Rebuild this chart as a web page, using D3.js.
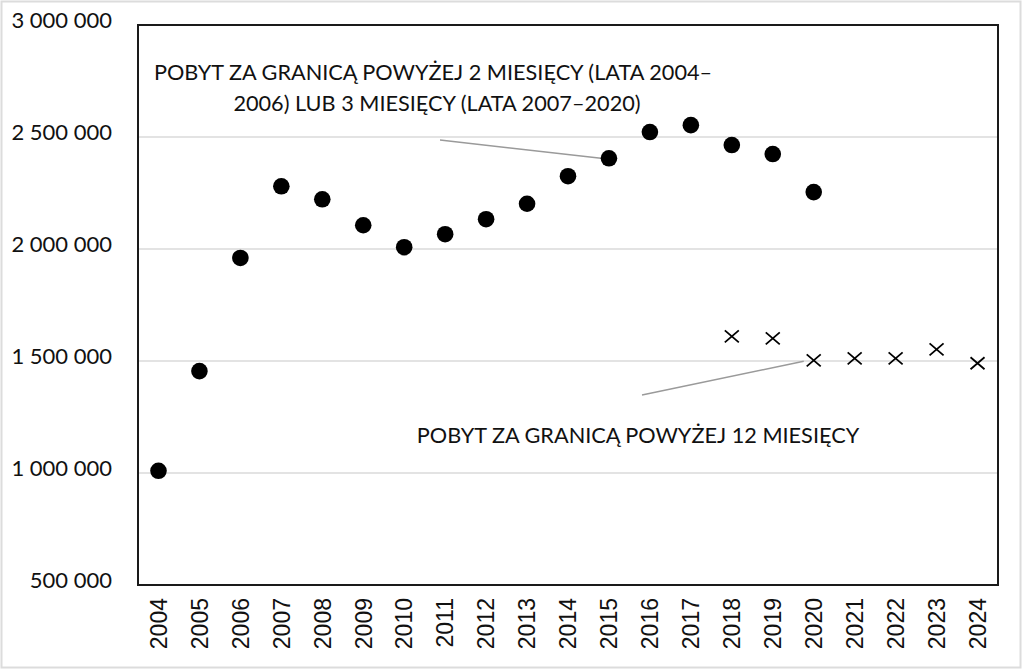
<!DOCTYPE html>
<html>
<head>
<meta charset="utf-8">
<script src="https://cdn.jsdelivr.net/npm/d3@7"></script>
<style>
  body { margin: 0; background: #fff; }
</style>
</head>
<body>
<script>
var years = ['2004','2005','2006','2007','2008','2009','2010','2011','2012','2013','2014',
  '2015','2016','2017','2018','2019','2020','2021','2022','2023','2024'];

// pobyt powyzej 2 (2004-2006) lub 3 miesiecy (2007-2020)
var shortYears = ['2004','2005','2006','2007','2008','2009','2010','2011','2012','2013','2014',
  '2015','2016','2017','2018','2019','2020'];
var shortValues = [1010000, 1455000, 1960000, 2280000, 2222000, 2106000, 2008000, 2066000,
  2133000, 2202000, 2325000, 2405000, 2522000, 2553000, 2464000, 2424000, 2254000];

// pobyt powyzej 12 miesiecy
var longYears = ['2018','2019','2020','2021','2022','2023','2024'];
var longValues = [1610000, 1601000, 1503000, 1512000, 1512000, 1552000, 1490000];

var yTicks = [500000, 1000000, 1500000, 2000000, 2500000, 3000000];

var w = 1024;
var h = 671;
var plotL = 138, plotR = 998, plotT = 25, plotB = 585;

var svg = d3.select('body')
  .append('svg')
  .attr('width', w)
  .attr('height', h);

// outer light border
svg.append('rect')
  .attr('x', 1.5).attr('y', 1.5)
  .attr('width', w - 5).attr('height', h - 5)
  .attr('fill', 'none')
  .attr('stroke', '#dcdcdc')
  .attr('stroke-width', 2);

/* ===== scales ===== */

var xScale = d3.scaleBand()
  .domain(years)
  .range([plotL, plotR]);

var yScale = d3.scaleLinear()
  .domain([500000, 3000000])
  .range([plotB, plotT]);

var fmt = function(d) {
  return d3.format(',')(d).replace(/,/g, ' ');
};

/* ===== grid ===== */

svg.append('g')
  .selectAll('line')
  .data(yTicks.slice(1, -1))
  .enter()
  .append('line')
  .attr('x1', plotL).attr('x2', plotR)
  .attr('y1', function(d) { return yScale(d); })
  .attr('y2', function(d) { return yScale(d); })
  .attr('stroke', '#dadada')
  .attr('stroke-width', 1.5);

/* ===== axes ===== */

var yAxis = d3.axisLeft(yScale)
  .tickValues(yTicks)
  .tickFormat(fmt)
  .tickSize(0)
  .tickPadding(26);

svg.append('g')
  .attr('transform', 'translate(' + plotL + ',0)')
  .call(yAxis)
  .call(function(g) { g.select('.domain').remove(); })
  .selectAll('text')
  .attr('font-family', 'Lato, sans-serif')
  .attr('font-size', 22)
  .attr('fill', '#111')
  .attr('dy', '0.1em');

var xAxis = d3.axisBottom(xScale)
  .tickSize(0)
  .tickPadding(0);

svg.append('g')
  .attr('transform', 'translate(0,' + plotB + ')')
  .call(xAxis)
  .call(function(g) { g.select('.domain').remove(); })
  .selectAll('text')
  .attr('font-family', '"Liberation Sans", Arial, sans-serif')
  .attr('font-size', 23)
  .attr('fill', '#111')
  .attr('text-anchor', 'end')
  .attr('transform', 'rotate(-90)')
  .attr('x', -13)
  .attr('y', 0)
  .attr('dy', '0.36em');

// plot frame
svg.append('rect')
  .attr('x', plotL).attr('y', plotT)
  .attr('width', plotR - plotL).attr('height', plotB - plotT)
  .attr('fill', 'none')
  .attr('stroke', '#1a1a1a')
  .attr('stroke-width', 2);

/* ===== leader lines ===== */

svg.append('line')
  .attr('x1', 440).attr('y1', 140)
  .attr('x2', xScale('2015') + xScale.bandwidth() / 2 - 8)
  .attr('y2', yScale(2405000))
  .attr('stroke', '#9a9a9a')
  .attr('stroke-width', 1.5);

svg.append('line')
  .attr('x1', 642).attr('y1', 395)
  .attr('x2', xScale('2020') + xScale.bandwidth() / 2 - 10)
  .attr('y2', yScale(1503000) + 1)
  .attr('stroke', '#9a9a9a')
  .attr('stroke-width', 1.5);

/* ===== dots ===== */

svg.append('g')
  .selectAll('circle')
  .data(shortValues)
  .enter()
  .append('circle')
  .attr('cx', function(d, i) { return xScale(shortYears[i]) + xScale.bandwidth() / 2; })
  .attr('cy', function(d) { return yScale(d); })
  .attr('r', 8.3)
  .attr('fill', '#000');

/* ===== crosses ===== */

svg.append('g')
  .selectAll('path')
  .data(longValues)
  .enter()
  .append('path')
  .attr('d', 'M-7,-6L7,6M-7,6L7,-6')
  .attr('transform', function(d, i) {
    return 'translate(' + (xScale(longYears[i]) + xScale.bandwidth() / 2) + ',' + yScale(d) + ')';
  })
  .attr('stroke', '#000')
  .attr('stroke-width', 1.8)
  .attr('fill', 'none');

/* ===== labels ===== */

var lab = svg.append('g')
  .attr('font-family', 'Lato, sans-serif')
  .attr('font-size', 21.7)
  .attr('fill', '#111')
  .attr('text-anchor', 'middle');

lab.append('text')
  .attr('x', 433).attr('y', 80)
  .text('POBYT ZA GRANICĄ POWYŻEJ 2 MIESIĘCY (LATA 2004–');

lab.append('text')
  .attr('x', 437).attr('y', 111)
  .text('2006) LUB 3 MIESIĘCY (LATA 2007–2020)');

lab.append('text')
  .attr('x', 638).attr('y', 443)
  .text('POBYT ZA GRANICĄ POWYŻEJ 12 MIESIĘCY');
</script>
</body>
</html>
